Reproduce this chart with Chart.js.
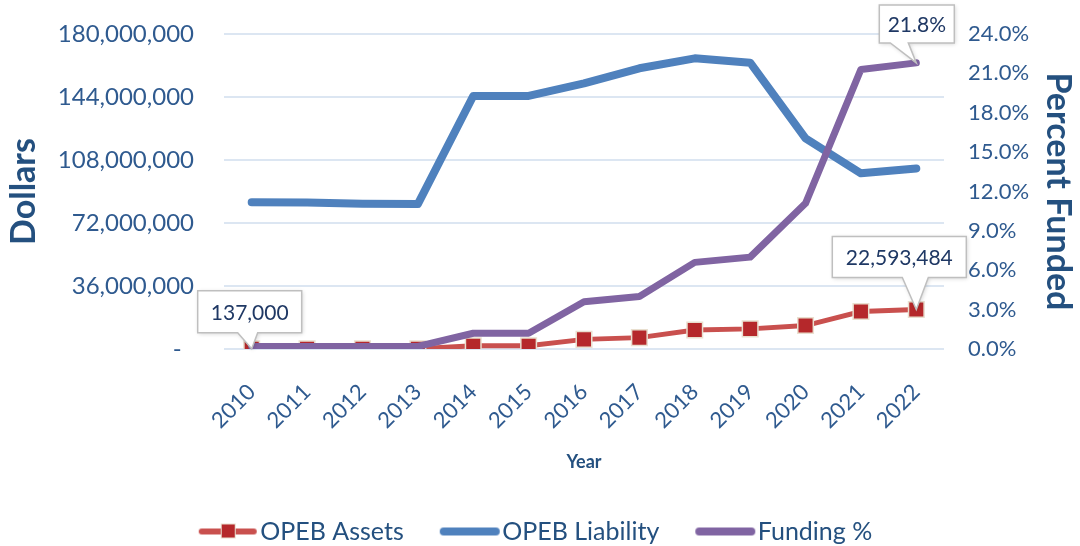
<!DOCTYPE html>
<html>
<head>
<meta charset="utf-8">
<script src="https://cdn.jsdelivr.net/npm/chart.js@4.4.1/dist/chart.umd.min.js"></script>
<style>
  html, body { margin: 0; padding: 0; background: #fff; }
  #wrap { width: 1080px; height: 546px; }
</style>
</head>
<body>
<div id="wrap"><canvas id="chart" width="1080" height="546"></canvas></div>
<script>
// values
const years = ['2010', '2011', '2012', '2013', '2014', '2015', '2016', '2017', '2018', '2019', '2020', '2021', '2022'];
const opebAssets = [137000, 140000, 140000, 140000, 1800000, 1800000, 5500000, 6500000, 10900000, 11500000, 13400000, 21400000, 22593484];
const opebLiability = [83800000, 83700000, 83000000, 82800000, 144600000, 144600000, 151800000, 160400000, 166100000, 163600000, 120400000, 100400000, 103200000];
const fundingPct = [0.2, 0.2, 0.2, 0.2, 1.2, 1.2, 3.6, 4.0, 6.6, 7.0, 11.1, 21.3, 21.8];

const FONT = 'Lato, "Open Sans", sans-serif';
const tickBlue = '#2f5a8f';
const titleBlue = '#24507f';

// legend icons
function legendIcon(color, withSquare) {
    const c = document.createElement('canvas');
    c.width = 62; c.height = 20;
    const g = c.getContext('2d');
    g.strokeStyle = color;
    g.lineCap = 'round';
    g.lineWidth = withSquare ? 6 : 8;
    g.beginPath(); g.moveTo(5, 10); g.lineTo(57, 10); g.stroke();
    if (withSquare) {
        g.fillStyle = '#b5282b';
        g.fillRect(24, 2, 15, 15);
        g.strokeStyle = '#e9dfcf';
        g.lineWidth = 1;
        g.strokeRect(24.5, 2.5, 14, 14);
    }
    return c;
}
const icons = [legendIcon('#c9504e', true), legendIcon('#4f81bd', false), legendIcon('#8064a2', false)];

function callout(ctx, text, x, y, w, h, b1, b2, tx, ty) {
    ctx.save();
    ctx.beginPath();
    ctx.moveTo(x, y);
    ctx.lineTo(x + w, y);
    ctx.lineTo(x + w, y + h);
    ctx.lineTo(b2, y + h);
    ctx.lineTo(tx, ty);
    ctx.lineTo(b1, y + h);
    ctx.lineTo(x, y + h);
    ctx.closePath();
    ctx.shadowColor = 'rgba(0,0,0,0.18)';
    ctx.shadowBlur = 4;
    ctx.shadowOffsetX = 1;
    ctx.shadowOffsetY = 1;
    ctx.fillStyle = '#ffffff';
    ctx.fill();
    ctx.shadowColor = 'transparent';
    ctx.strokeStyle = '#bfbfbf';
    ctx.lineWidth = 1.5;
    ctx.stroke();
    ctx.fillStyle = '#1f3864';
    ctx.font = '21px ' + FONT;
    ctx.textAlign = 'center';
    ctx.textBaseline = 'middle';
    ctx.fillText(text, x + w / 2, y + h / 2 + 1);
    ctx.restore();
}

const calloutPlugin = {
    id: 'callouts',
    afterDatasetsDraw(chart) {
        const ctx = chart.ctx;
        const last = years.length - 1;
        const a0 = chart.getDatasetMeta(0).data[0];
        const aN = chart.getDatasetMeta(0).data[last];
        const fN = chart.getDatasetMeta(2).data[last];
        callout(ctx, opebAssets[0].toLocaleString('en-US'), a0.x - 54, a0.y - 58, 104, 42, a0.x - 14, a0.x + 6, a0.x, a0.y);
        callout(ctx, opebAssets[last].toLocaleString('en-US'), aN.x - 84, aN.y - 73, 134, 41, aN.x - 14, aN.x + 12, aN.x, aN.y);
        callout(ctx, fundingPct[last].toFixed(1) + '%', fN.x - 37, fN.y - 58, 75, 38, fN.x - 26, fN.x - 8, fN.x, fN.y);
    }
};

const ctx = document.getElementById('chart').getContext('2d');
const chart = new Chart(ctx, {
    type: 'line',
    data: {
        labels: years,
        datasets: [{
            label: 'OPEB Assets',
            data: opebAssets,
            yAxisID: 'y',
            borderColor: '#c9504e',
            borderWidth: 5,
            pointStyle: 'rect',
            pointRadius: 11,
            pointBackgroundColor: '#b5282b',
            pointBorderColor: '#e9dfcf',
            pointBorderWidth: 1.5,
            tension: 0,
            order: 3
        }, {
            label: 'OPEB Liability',
            data: opebLiability,
            yAxisID: 'y',
            borderColor: '#4f81bd',
            borderWidth: 8,
            borderCapStyle: 'round',
            borderJoinStyle: 'round',
            pointRadius: 0,
            tension: 0,
            order: 2
        }, {
            label: 'Funding %',
            data: fundingPct,
            yAxisID: 'y1',
            borderColor: '#8064a2',
            borderWidth: 7,
            borderCapStyle: 'round',
            borderJoinStyle: 'round',
            pointRadius: 0,
            tension: 0,
            order: 1
        }]
    },
    options: {
        responsive: false,
        animation: false,
        layout: { padding: { top: 34, bottom: -8 } },
        plugins: {
            tooltip: { enabled: false },
            legend: {
                position: 'bottom',
                labels: {
                    usePointStyle: true,
                    pointStyleWidth: 40,
                    padding: 46,
                    color: titleBlue,
                    font: { family: FONT, size: 25, lineHeight: 1 },
                    generateLabels(chart) {
                        return chart.data.datasets.map((ds, i) => ({
                            text: ds.label,
                            pointStyle: icons[i],
                            fillStyle: ds.borderColor,
                            strokeStyle: ds.borderColor,
                            lineWidth: 0,
                            fontColor: titleBlue,
                            hidden: false,
                            datasetIndex: i
                        }));
                    }
                }
            }
        },
        scales: {
            x: {
                grid: { display: false },
                border: { display: false },
                offset: true,
                ticks: {
                    color: tickBlue,
                    font: { family: FONT, size: 22 },
                    minRotation: 45,
                    maxRotation: 45,
                    padding: 22
                },
                title: {
                    display: true,
                    text: 'Year',
                    color: titleBlue,
                    font: { family: FONT, size: 18, weight: 'bold' },
                    padding: { top: 2, bottom: 0 }
                },
                afterFit(axis) { axis.height = 124; }
            },
            y: {
                position: 'left',
                min: 0,
                max: 180000000,
                grid: { color: '#dce6f2', lineWidth: 2, drawTicks: true, tickLength: 22, tickColor: 'transparent' },
                border: { display: false },
                ticks: {
                    stepSize: 36000000,
                    color: tickBlue,
                    padding: 8,
                    font: { family: FONT, size: 24 },
                    callback: v => v === 0 ? '-  ' : v.toLocaleString('en-US')
                },
                title: {
                    display: true,
                    text: 'Dollars',
                    color: titleBlue,
                    padding: 4,
                    font: { family: FONT, size: 34, weight: 'bold' }
                },
                afterFit(axis) { axis.width = 224; }
            },
            y1: {
                position: 'right',
                min: 0,
                max: 24,
                grid: { drawOnChartArea: false, drawTicks: true, tickLength: 20, tickColor: 'transparent' },
                border: { display: false },
                ticks: {
                    stepSize: 3,
                    color: tickBlue,
                    padding: 4,
                    font: { family: FONT, size: 22 },
                    callback: v => v.toFixed(1) + '%'
                },
                title: {
                    display: true,
                    text: 'Percent Funded',
                    color: titleBlue,
                    padding: 2,
                    font: { family: FONT, size: 34, weight: 'bold' }
                },
                afterFit(axis) { axis.width = 136; }
            }
        }
    },
    plugins: [calloutPlugin]
});
</script>
</body>
</html>
